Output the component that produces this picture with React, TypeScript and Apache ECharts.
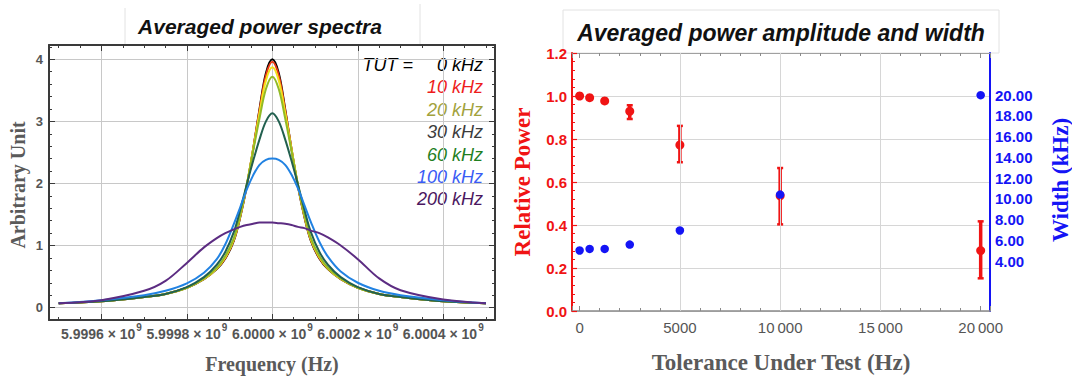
import React, { useEffect, useRef } from "react";
import * as echarts from "echarts";

// ---------- Left chart: averaged power spectra ----------
const CENTER_HZ = 6e9;
const offsetsKHz = [-500, -400, -300, -250, -200, -160, -130, -110, -90, -75, -60, -45, -30, -15, 0, 15, 30, 45, 60, 75, 90, 110, 130, 160, 200, 250, 300, 400, 500];

const tut0 = [0.07, 0.10, 0.17, 0.22, 0.32, 0.46, 0.62, 0.79, 1.08, 1.46, 1.95, 2.55, 3.20, 3.78, 4.00, 3.78, 3.20, 2.55, 1.95, 1.46, 1.08, 0.79, 0.62, 0.46, 0.32, 0.22, 0.17, 0.10, 0.07];
const tut10 = [0.07, 0.10, 0.17, 0.22, 0.32, 0.46, 0.63, 0.80, 1.09, 1.47, 1.96, 2.55, 3.18, 3.74, 3.96, 3.74, 3.18, 2.55, 1.96, 1.47, 1.09, 0.80, 0.63, 0.46, 0.32, 0.22, 0.17, 0.10, 0.07];
const tut20 = [0.07, 0.10, 0.17, 0.22, 0.32, 0.46, 0.63, 0.81, 1.10, 1.48, 1.97, 2.55, 3.14, 3.66, 3.87, 3.66, 3.14, 2.55, 1.97, 1.48, 1.10, 0.81, 0.63, 0.46, 0.32, 0.22, 0.17, 0.10, 0.07];
const tut30 = [0.07, 0.10, 0.17, 0.22, 0.32, 0.47, 0.64, 0.83, 1.12, 1.50, 1.98, 2.52, 3.05, 3.52, 3.72, 3.52, 3.05, 2.52, 1.98, 1.50, 1.12, 0.83, 0.64, 0.47, 0.32, 0.22, 0.17, 0.10, 0.07];
const tut60 = [0.07, 0.10, 0.17, 0.22, 0.33, 0.49, 0.69, 0.90, 1.22, 1.58, 1.98, 2.36, 2.71, 3.00, 3.13, 3.00, 2.71, 2.36, 1.98, 1.58, 1.22, 0.90, 0.69, 0.49, 0.33, 0.22, 0.17, 0.10, 0.07];
const tut100 = [0.07, 0.12, 0.20, 0.27, 0.39, 0.56, 0.78, 1.02, 1.35, 1.62, 1.90, 2.13, 2.30, 2.38, 2.40, 2.38, 2.30, 2.14, 1.92, 1.65, 1.38, 1.06, 0.82, 0.58, 0.40, 0.27, 0.20, 0.12, 0.07];
const tut200 = [0.07, 0.12, 0.27, 0.43, 0.72, 0.97, 1.12, 1.20, 1.26, 1.30, 1.33, 1.35, 1.37, 1.37, 1.37, 1.36, 1.35, 1.33, 1.30, 1.28, 1.24, 1.20, 1.13, 1.00, 0.78, 0.47, 0.28, 0.13, 0.07];

const spectraSeries = [
  { name: "0 kHz", values: tut0, color: "#000000" },
  { name: "10 kHz", values: tut10, color: "#ec3a14" },
  { name: "20 kHz", values: tut20, color: "#f3e21c" },
  { name: "30 kHz", values: tut30, color: "#92ba26" },
  { name: "60 kHz", values: tut60, color: "#22604f" },
  { name: "100 kHz", values: tut100, color: "#2182e2" },
  { name: "200 kHz", values: tut200, color: "#5c2c82" },
];
const legendLabels = ["0 kHz", "10 kHz", "20 kHz", "30 kHz", "60 kHz", "100 kHz", "200 kHz"];
const legendColors = ["#000000", "#ee1c1c", "#a2a23c", "#3c3c3c", "#1f801f", "#3a5cf5", "#4b1760"];

// ---------- Right chart: amplitude and width ----------
const tutHz = [0, 500, 1250, 2500, 5000, 10000, 20000];
const relPower = [1.0, 0.992, 0.977, 0.929, 0.772, 0.536, 0.281];
const relPowerLow = [null, null, null, 0.893, 0.692, 0.403, 0.152];
const relPowerHigh = [null, null, null, 0.957, 0.861, 0.665, 0.417];
const widthKHz = [5.02, 5.17, 5.17, 5.59, 6.95, 10.41, 20.0];
const rightGridX = [5000, 10000, 15000];

const SERIF = '"Liberation Serif", "Times New Roman", serif';
const SANS = '"Liberation Sans", Arial, sans-serif';
const RED = "#f01414";
const BLUE = "#1414f5";
const FRAME = "#3a3a3a";

export default function App() {
  const ref = useRef<HTMLDivElement>(null);

  useEffect(() => {
    document.body.style.margin = "0";
    const chart = echarts.init(ref.current!, undefined, { renderer: "svg" });

    const lineSeries = spectraSeries.map((s) => ({
      type: "line",
      name: s.name,
      xAxisIndex: 0,
      yAxisIndex: 0,
      data: offsetsKHz.map((k, i) => [CENTER_HZ + k * 1000, s.values[i]]),
      showSymbol: false,
      smooth: 0.35,
      lineStyle: { color: s.color, width: 2 },
      itemStyle: { color: s.color },
      z: 3,
    }));

    const errData = tutHz
      .map((x, i) => [x, relPowerLow[i], relPowerHigh[i]])
      .filter((d) => d[1] != null);

    const frameAxisCommon = {
      axisLine: { show: true, onZero: false, lineStyle: { color: FRAME, width: 2 } },
      axisTick: { show: true, inside: true, length: 6, lineStyle: { color: FRAME, width: 1 } },
      minorTick: { show: true, length: 3, lineStyle: { color: FRAME, width: 1 } },
    };

    const option: any = {
      animation: false,
      backgroundColor: "#ffffff",
      grid: [
        { left: 49, top: 45, width: 446, height: 275, outerBoundsMode: "none" },
        { left: 572, top: 53, width: 418, height: 258, outerBoundsMode: "none" },
      ],
      xAxis: [
        {
          type: "value",
          gridIndex: 0,
          position: "bottom",
          min: CENTER_HZ - 522700,
          max: CENTER_HZ + 521100,
          minInterval: 200000,
          maxInterval: 200000,
          splitNumber: 5,
          ...frameAxisCommon,
          minorTick: { ...frameAxisCommon.minorTick, splitNumber: 4 },
          splitLine: { show: true, lineStyle: { color: "#c8c8c8", width: 1 } },
          axisLabel: {
            show: true,
            margin: 2,
            showMinLabel: false,
            showMaxLabel: false,
            fontSize: 14,
            fontWeight: "bold",
            color: "#555",
            fontFamily: SANS,
            formatter: (v: number) => `{m|${(v / 1e9).toFixed(4)} × 10}{s|9}`,
            rich: {
              m: { fontSize: 14, fontWeight: "bold", color: "#555", fontFamily: SANS, lineHeight: 19, verticalAlign: "bottom" },
              s: { fontSize: 10, fontWeight: "bold", color: "#555", fontFamily: SANS, lineHeight: 11, verticalAlign: "top", padding: [0, 0, 0, 1] },
            },
          },
        },
        {
          type: "value",
          gridIndex: 0,
          position: "top",
          min: CENTER_HZ - 522700,
          max: CENTER_HZ + 521100,
          minInterval: 200000,
          maxInterval: 200000,
          splitNumber: 5,
          ...frameAxisCommon,
          minorTick: { ...frameAxisCommon.minorTick, splitNumber: 4 },
          splitLine: { show: false },
          axisLabel: { show: false },
        },
        {
          type: "value",
          gridIndex: 1,
          position: "bottom",
          min: -380,
          max: 20465,
          minInterval: 5000,
          maxInterval: 5000,
          splitNumber: 4,
          axisLine: { show: true, onZero: false, lineStyle: { color: "#8a8a8a", width: 1.5 } },
          axisTick: { show: true, inside: true, length: 5, lineStyle: { color: "#8a8a8a" } },
          minorTick: { show: true, splitNumber: 5, length: 3, lineStyle: { color: "#8a8a8a" } },
          splitLine: { show: false },
          axisLabel: {
            show: true,
            margin: 9,
            showMinLabel: false,
            showMaxLabel: false,
            fontSize: 15,
            color: "#555",
            fontFamily: SANS,
            formatter: (v: number) => (v >= 10000 ? `${Math.floor(v / 1000)}\u2009${String(v % 1000).padStart(3, "0")}` : `${v}`),
          },
        },
        {
          type: "value",
          gridIndex: 1,
          position: "top",
          min: -380,
          max: 20465,
          minInterval: 5000,
          maxInterval: 5000,
          splitNumber: 4,
          axisLine: { show: true, onZero: false, lineStyle: { color: "#a0a0a0", width: 1 } },
          axisTick: { show: true, inside: true, length: 5, lineStyle: { color: "#8a8a8a" } },
          minorTick: { show: true, splitNumber: 5, length: 3, lineStyle: { color: "#8a8a8a" } },
          splitLine: { show: false },
          axisLabel: { show: false },
        },
      ],
      yAxis: [
        {
          type: "value",
          gridIndex: 0,
          position: "left",
          min: -0.2,
          max: 4.23,
          minInterval: 1,
          maxInterval: 1,
          splitNumber: 4,
          ...frameAxisCommon,
          minorTick: { ...frameAxisCommon.minorTick, splitNumber: 5 },
          splitLine: { show: true, lineStyle: { color: "#c8c8c8", width: 1 } },
          axisLabel: {
            show: true,
            margin: 6,
            showMinLabel: false,
            showMaxLabel: false,
            fontSize: 13,
            fontWeight: "bold",
            color: "#555",
            fontFamily: SANS,
          },
        },
        {
          type: "value",
          gridIndex: 0,
          position: "right",
          min: -0.2,
          max: 4.23,
          minInterval: 1,
          maxInterval: 1,
          splitNumber: 4,
          ...frameAxisCommon,
          minorTick: { ...frameAxisCommon.minorTick, splitNumber: 5 },
          splitLine: { show: false },
          axisLabel: { show: false },
        },
        {
          type: "value",
          gridIndex: 1,
          position: "left",
          min: 0,
          max: 1.2,
          interval: 0.2,
          axisLine: { show: true, onZero: false, lineStyle: { color: RED, width: 2 } },
          axisTick: { show: true, inside: true, length: 5, lineStyle: { color: RED, width: 1.2 } },
          minorTick: { show: true, splitNumber: 5, length: 3, lineStyle: { color: RED, width: 1 } },
          splitLine: { show: true, lineStyle: { color: "#d6d6d6", width: 1 } },
          axisLabel: {
            show: true,
            margin: 5,
            fontSize: 15,
            fontWeight: "bold",
            color: RED,
            fontFamily: SANS,
            formatter: (v: number) => v.toFixed(1),
          },
        },
        {
          type: "value",
          gridIndex: 1,
          position: "right",
          min: -0.82,
          max: 24.07,
          minInterval: 2,
          maxInterval: 2,
          splitNumber: 12,
          axisLine: { show: true, onZero: false, lineStyle: { color: BLUE, width: 2 } },
          axisTick: { show: false },
          splitLine: { show: false },
          axisLabel: {
            show: true,
            margin: 5,
            showMinLabel: false,
            showMaxLabel: false,
            fontSize: 15,
            fontWeight: "bold",
            color: BLUE,
            fontFamily: SANS,
            formatter: (v: number) => (v >= 3.99 && v <= 20.01 ? v.toFixed(2) : ""),
          },
        },
      ],
      series: [
        ...lineSeries,
        {
          type: "line",
          xAxisIndex: 2,
          yAxisIndex: 2,
          data: [],
          silent: true,
          markLine: {
            silent: true,
            symbol: "none",
            label: { show: false },
            lineStyle: { color: "#d6d6d6", width: 1, type: "solid" },
            data: rightGridX.map((x) => ({ xAxis: x })),
          },
        },
        {
          type: "custom",
          xAxisIndex: 2,
          yAxisIndex: 2,
          data: errData,
          encode: { x: 0, y: [1, 2] },
          renderItem: (params: any, api: any) => {
            const x = api.value(0);
            const lo = api.coord([x, api.value(1)]);
            const hi = api.coord([x, api.value(2)]);
            const cap = 3;
            return {
              type: "group",
              children: [
                { type: "rect", shape: { x: lo[0] - 1.75, y: hi[1], width: 3.5, height: lo[1] - hi[1] }, style: { fill: RED } },
                { type: "rect", shape: { x: lo[0] - cap, y: lo[1] - 1.25, width: cap * 2, height: 2.5 }, style: { fill: RED } },
                { type: "rect", shape: { x: hi[0] - cap, y: hi[1] - 1.25, width: cap * 2, height: 2.5 }, style: { fill: RED } },
              ],
            };
          },
          z: 3,
        },
        {
          type: "scatter",
          xAxisIndex: 2,
          yAxisIndex: 2,
          data: tutHz.map((x, i) => [x, relPower[i]]),
          symbol: "circle",
          symbolSize: 9,
          itemStyle: { color: RED, opacity: 1 },
          z: 4,
        },
        {
          type: "scatter",
          xAxisIndex: 2,
          yAxisIndex: 3,
          data: tutHz.map((x, i) => [x, widthKHz[i]]),
          symbol: "circle",
          symbolSize: 8.5,
          itemStyle: { color: BLUE, opacity: 1 },
          z: 5,
        },
      ],
      graphic: [
        // title boxes
        { type: "line", shape: { x1: 125, y1: 8, x2: 125, y2: 44 }, style: { stroke: "#e2e2e2", lineWidth: 1 }, silent: true },
        { type: "line", shape: { x1: 420, y1: 4, x2: 420, y2: 44 }, style: { stroke: "#e2e2e2", lineWidth: 1 }, silent: true },
        { type: "rect", shape: { x: 563, y: 10, width: 436, height: 43 }, style: { fill: "#ffffff", stroke: "#e2e2e2", lineWidth: 1 }, silent: true, z: -1 },
        {
          type: "text",
          x: 260,
          y: 26,
          style: { text: "Averaged power spectra", font: `italic bold 21px ${SANS}`, fill: "#111", align: "center", verticalAlign: "middle" },
        },
        {
          type: "text",
          x: 781,
          y: 33,
          style: { text: "Averaged power amplitude and width", font: `italic bold 23px ${SANS}`, fill: "#111", align: "center", verticalAlign: "middle" },
        },
        // axis names
        {
          type: "text",
          x: 18,
          y: 185,
          rotation: Math.PI / 2,
          style: { text: "Arbitrary Unit", font: `bold 20px ${SERIF}`, fill: "#5a5a5a", align: "center", verticalAlign: "middle" },
        },
        {
          type: "text",
          x: 272,
          y: 364,
          style: { text: "Frequency (Hz)", font: `bold 20px ${SERIF}`, fill: "#5a5a5a", align: "center", verticalAlign: "middle" },
        },
        {
          type: "text",
          x: 781,
          y: 362,
          style: { text: "Tolerance Under Test (Hz)", font: `bold 23px ${SERIF}`, fill: "#5a5a5a", align: "center", verticalAlign: "middle" },
        },
        {
          type: "text",
          x: 522,
          y: 182,
          rotation: Math.PI / 2,
          style: { text: "Relative Power", font: `bold 23px ${SERIF}`, fill: RED, align: "center", verticalAlign: "middle" },
        },
        {
          type: "text",
          x: 1060,
          y: 180,
          rotation: Math.PI / 2,
          style: { text: "Width (kHz)", font: `bold 23px ${SERIF}`, fill: BLUE, align: "center", verticalAlign: "middle" },
        },
        // legend annotations
        {
          type: "text",
          x: 413,
          y: 65,
          style: { text: "TUT =", font: `italic 18px ${SANS}`, fill: "#000", align: "right", verticalAlign: "middle" },
        },
        ...legendLabels.map((t, i) => ({
          type: "text",
          x: 483,
          y: 65 + i * 22.4,
          style: { text: t, font: `italic 18px ${SANS}`, fill: legendColors[i], align: "right", verticalAlign: "middle" },
        })),
      ],
    };

    chart.setOption(option);
    return () => chart.dispose();
  }, []);

  return <div ref={ref} style={{ position: "absolute", left: 0, top: 0, width: 1072, height: 376 }} />;
}
